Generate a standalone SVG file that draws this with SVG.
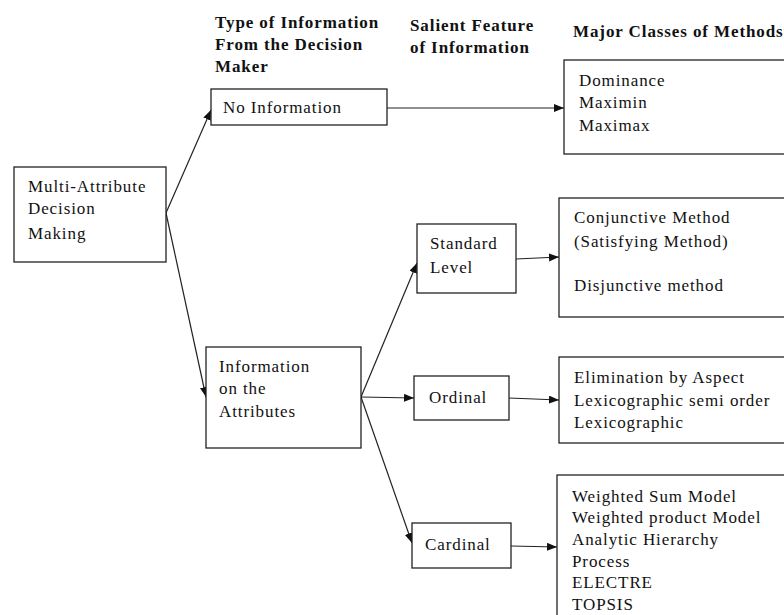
<svg xmlns="http://www.w3.org/2000/svg" width="784" height="615" viewBox="0 0 784 615">
<style>
.box{fill:#fff;stroke:#222;stroke-width:1.3}
.t{font-family:'Liberation Serif','DejaVu Serif',serif;font-size:17px;letter-spacing:0.9px;fill:#111}
.h{font-family:'Liberation Serif','DejaVu Serif',serif;font-size:17px;font-weight:bold;letter-spacing:0.9px;fill:#111}
.c{fill:none;stroke:#222;stroke-width:1.2;marker-end:url(#arr)}
</style>
<defs>
<marker id="arr" markerUnits="userSpaceOnUse" markerWidth="11" markerHeight="9" refX="10" refY="4" orient="auto">
<path d="M0,0 L10,4 L0,8 z" fill="#111"/>
</marker>
</defs>
<rect width="784" height="615" fill="#fff"/>
<g id="headers" font-family="Liberation Serif, serif">
<text class="h" x="215" y="28">Type of Information</text>
<text class="h" x="215" y="50">From the Decision</text>
<text class="h" x="215" y="72">Maker</text>
<text class="h" x="410" y="31">Salient Feature</text>
<text class="h" x="410" y="53">of Information</text>
<text class="h" x="573" y="37">Major Classes of Methods</text>
</g>
<g id="connectors">
<line class="c" x1="166" y1="213" x2="211" y2="110"/>
<line class="c" x1="166" y1="213" x2="206" y2="397"/>
<line class="c" x1="387" y1="108" x2="564" y2="108"/>
<line class="c" x1="361" y1="397" x2="417" y2="263"/>
<line class="c" x1="361" y1="397" x2="414" y2="398"/>
<line class="c" x1="361" y1="397" x2="412" y2="543"/>
<line class="c" x1="516" y1="259" x2="559" y2="257"/>
<line class="c" x1="509" y1="398" x2="559" y2="400"/>
<line class="c" x1="511" y1="546" x2="557" y2="547"/>
</g>
<g id="madm">
<rect class="box" x="14" y="167" width="152" height="95"/>
<text class="t" x="28" y="192">Multi-Attribute</text>
<text class="t" x="28" y="214">Decision</text>
<text class="t" x="28" y="239">Making</text>
</g>
<g id="no-info">
<rect class="box" x="211" y="89" width="176" height="36"/>
<text class="t" x="223" y="113">No Information</text>
</g>
<g id="info-attr">
<rect class="box" x="206" y="347" width="155" height="101"/>
<text class="t" x="219" y="372">Information</text>
<text class="t" x="219" y="394">on the</text>
<text class="t" x="219" y="417">Attributes</text>
</g>
<g id="dominance">
<rect class="box" x="564" y="60" width="230" height="94"/>
<text class="t" x="579" y="86">Dominance</text>
<text class="t" x="579" y="108">Maximin</text>
<text class="t" x="579" y="131">Maximax</text>
</g>
<g id="standard">
<rect class="box" x="417" y="224" width="99" height="69"/>
<text class="t" x="430" y="249">Standard</text>
<text class="t" x="430" y="273">Level</text>
</g>
<g id="conjunctive">
<rect class="box" x="559" y="198" width="235" height="119"/>
<text class="t" x="574" y="223">Conjunctive Method</text>
<text class="t" x="574" y="247">(Satisfying Method)</text>
<text class="t" x="574" y="291">Disjunctive method</text>
</g>
<g id="ordinal">
<rect class="box" x="414" y="376" width="95" height="44"/>
<text class="t" x="429" y="403">Ordinal</text>
</g>
<g id="elimination">
<rect class="box" x="559" y="357" width="235" height="86"/>
<text class="t" x="574" y="383">Elimination by Aspect</text>
<text class="t" x="574" y="406">Lexicographic semi order</text>
<text class="t" x="574" y="428">Lexicographic</text>
</g>
<g id="cardinal">
<rect class="box" x="412" y="523" width="99" height="45"/>
<text class="t" x="425" y="550">Cardinal</text>
</g>
<g id="weighted">
<rect class="box" x="557" y="475" width="237" height="150"/>
<text class="t" x="572" y="502">Weighted Sum Model</text>
<text class="t" x="572" y="523">Weighted product Model</text>
<text class="t" x="572" y="545">Analytic Hierarchy</text>
<text class="t" x="572" y="567">Process</text>
<text class="t" x="572" y="588">ELECTRE</text>
<text class="t" x="572" y="610">TOPSIS</text>
</g>
</svg>
